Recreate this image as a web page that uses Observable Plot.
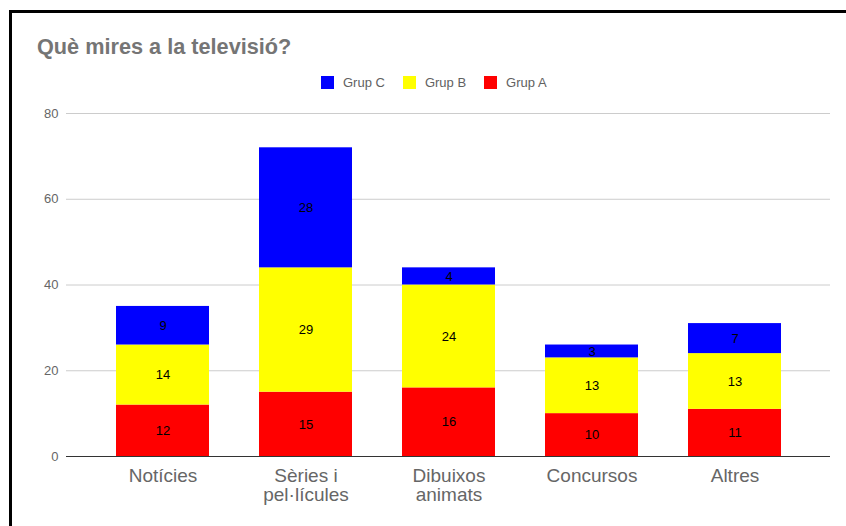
<!DOCTYPE html>
<html><head><meta charset="utf-8">
<script src="https://cdn.jsdelivr.net/npm/d3@7"></script>
<script src="https://cdn.jsdelivr.net/npm/@observablehq/plot@0.6"></script>
<style>
body{margin:0;background:#fff;font-family:"Liberation Sans",Arial,sans-serif;}
#page{position:relative;width:846px;height:526px;overflow:hidden;background:#fff}
#frame{position:absolute;left:9px;top:10px;right:-10px;bottom:-10px;border-top:3px solid #000;border-left:3px solid #000;}
#title{position:absolute;left:37px;top:34px;font-size:21.7px;font-weight:bold;color:#757575;white-space:nowrap}
#legend{position:absolute;left:321px;top:75px;display:flex;align-items:center;font-size:13px;color:#616161;white-space:nowrap}
.item{display:flex;align-items:center;margin-right:18px}
.sw{width:13px;height:13px;margin-right:9px}
#chart{position:absolute;left:0;top:100px}
</style></head>
<body><div id="page"><div id="frame"></div>
<div id="title">Què mires a la televisió?</div>
<div id="legend"></div>
<div id="chart"></div></div>
<script>
const categories = ["Notícies", "Sèries i\npel·lícules", "Dibuixos\nanimats", "Concursos", "Altres"];
const groups = ["Grup A", "Grup B", "Grup C"];
const grupA = [12, 15, 16, 10, 11];
const grupB = [14, 29, 24, 13, 13];
const grupC = [9, 28, 4, 3, 7];
const groupColors = ["#ff0000", "#ffff00", "#0000ff"];
const legendOrder = ["Grup C", "Grup B", "Grup A"];
const yTicks = [0, 20, 40, 60, 80];

const seriesValues = [grupA, grupB, grupC];
const rows = [];
groups.forEach((g, gi) => categories.forEach((c, ci) => rows.push({category: c, group: g, value: seriesValues[gi][ci]})));

const legend = document.getElementById("legend");
legendOrder.forEach(g => {
  const it = document.createElement("div"); it.className = "item";
  const sw = document.createElement("div"); sw.className = "sw";
  sw.style.background = groupColors[groups.indexOf(g)];
  const tx = document.createElement("span"); tx.textContent = g;
  it.append(sw, tx); legend.append(it);
});

const chart = Plot.plot({
  width: 846, height: 426,
  marginLeft: 66, marginRight: 16, marginTop: 13, marginBottom: 70,
  style: {fontFamily: "Liberation Sans, Arial, sans-serif", background: "transparent"},
  x: {domain: categories, paddingInner: 0.35, paddingOuter: 0.175, insetLeft: 24, insetRight: 24, label: null},
  y: {domain: [0, 80], label: null},
  color: {domain: groups, range: groupColors},
  marks: [
    Plot.ruleY(yTicks, {stroke: "#cccccc", strokeWidth: 1}),
    Plot.barY(rows, Plot.stackY({x: "category", y: "value", fill: "group"})),
    Plot.text(rows, Plot.stackY({x: "category", y: "value", text: "value", fill: "#000", fontSize: 13})),
    Plot.ruleY([0], {stroke: "#333333", strokeWidth: 1}),
    Plot.axisY(yTicks, {tickSize: 0, tickPadding: 8, fontSize: 13, fill: "#666666", label: null}),
    Plot.axisX({tickSize: 0, tickPadding: 11, fontSize: 19, fill: "#666666", lineHeight: 1.04, label: null})
  ]
});
document.getElementById("chart").append(chart);
</script></body></html>
